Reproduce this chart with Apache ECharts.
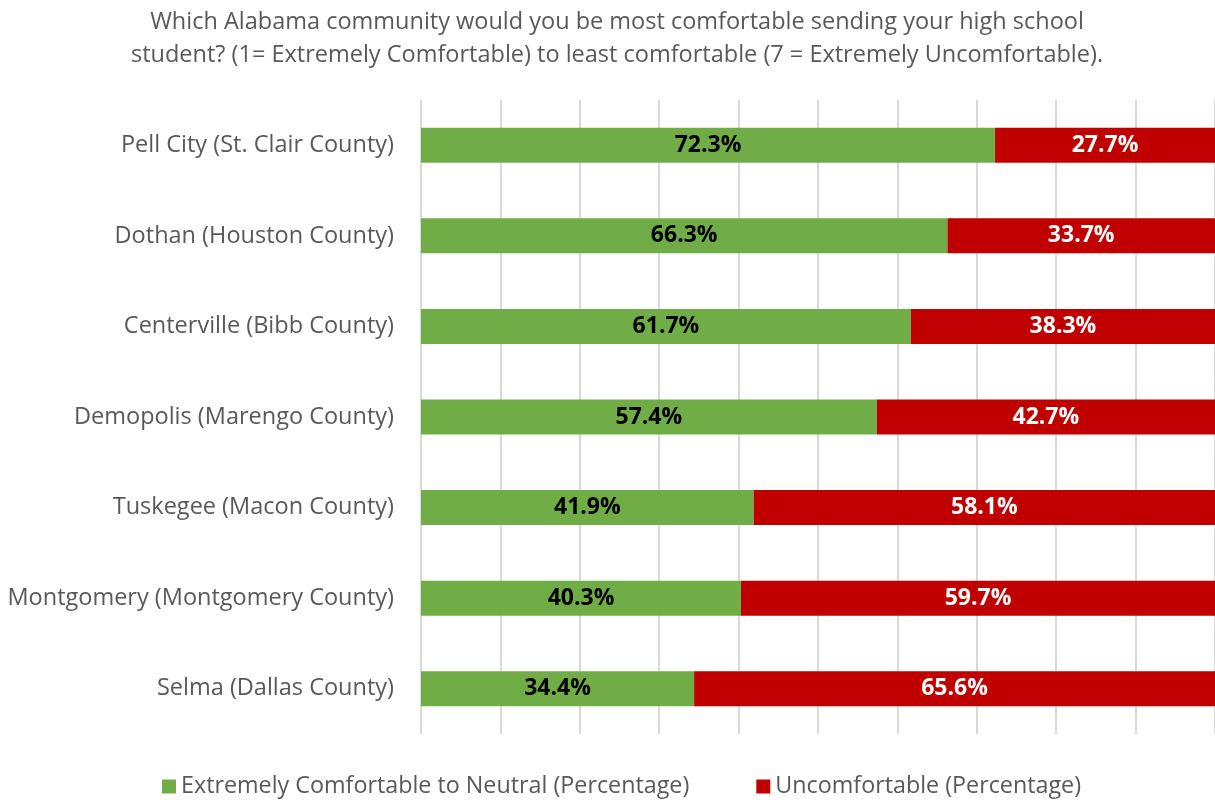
<!DOCTYPE html>
<html>
<head>
<meta charset="utf-8">
<script src="https://cdn.jsdelivr.net/npm/echarts@6/dist/echarts.min.js"></script>
<style>
  html, body { margin: 0; padding: 0; background: #ffffff; }
  #chart { width: 1215px; height: 800px; }
</style>
</head>
<body>
<div id="chart"></div>
<script>
// Survey communities, listed top to bottom
const communities = [
  'Pell City (St. Clair County)',
  'Dothan (Houston County)',
  'Centerville (Bibb County)',
  'Demopolis (Marengo County)',
  'Tuskegee (Macon County)',
  'Montgomery (Montgomery County)',
  'Selma (Dallas County)'
];
const comfortable = [72.3, 66.3, 61.7, 57.4, 41.9, 40.3, 34.4];
const uncomfortable = [27.7, 33.7, 38.3, 42.7, 58.1, 59.7, 65.6];
const seriesNames = [
  'Extremely Comfortable to Neutral (Percentage)',
  'Uncomfortable (Percentage)'
];
const titleText = 'Which Alabama community would you be most comfortable sending your high school\nstudent? (1= Extremely Comfortable) to least comfortable (7 = Extremely Uncomfortable).';

const FONT = '"Open Sans", Lato, sans-serif';
const chart = echarts.init(document.getElementById('chart'), null, { renderer: 'canvas' });

chart.setOption({
  animation: false,
  textStyle: { fontFamily: FONT },
  title: {
    text: titleText,
    left: 612,
    textAlign: 'center',
    top: 1,
    textStyle: {
      fontFamily: FONT,
      fontSize: 23.5,
      fontWeight: 'normal',
      color: '#595959',
      lineHeight: 33
    }
  },
  legend: {
    bottom: -3,
    left: 157,
    itemWidth: 14,
    itemHeight: 14,
    itemGap: 67,
    icon: 'rect',
    textStyle: { fontFamily: FONT, fontSize: 23.3, color: '#595959' },
    data: seriesNames
  },
  grid: {
    left: 421,
    top: 100,
    width: 795,
    height: 634,
    containLabel: false
  },
  xAxis: {
    type: 'value',
    min: 0,
    max: 100,
    interval: 10,
    axisLabel: { show: false },
    axisLine: { show: false },
    axisTick: { show: false },
    splitLine: { show: true, lineStyle: { color: '#d9d9d9', width: 2 } }
  },
  yAxis: {
    type: 'category',
    inverse: true,
    data: communities,
    axisLine: { show: false },
    axisTick: { show: false },
    axisLabel: {
      margin: 27,
      fontFamily: FONT,
      fontSize: 23.5,
      color: '#595959'
    }
  },
  series: [
    {
      name: seriesNames[0],
      type: 'bar',
      stack: 'total',
      barWidth: 35,
      data: comfortable,
      itemStyle: { color: '#70ad47' },
      label: {
        show: true,
        position: 'inside',
        formatter: p => p.value.toFixed(1) + '%',
        fontFamily: FONT,
        fontSize: 23,
        fontWeight: 'bold',
        color: '#000000'
      }
    },
    {
      name: seriesNames[1],
      type: 'bar',
      stack: 'total',
      barWidth: 35,
      data: uncomfortable,
      itemStyle: { color: '#c00000' },
      label: {
        show: true,
        position: 'inside',
        formatter: p => p.value.toFixed(1) + '%',
        fontFamily: FONT,
        fontSize: 23,
        fontWeight: 'bold',
        color: '#ffffff'
      }
    }
  ]
});
</script>
</body>
</html>
